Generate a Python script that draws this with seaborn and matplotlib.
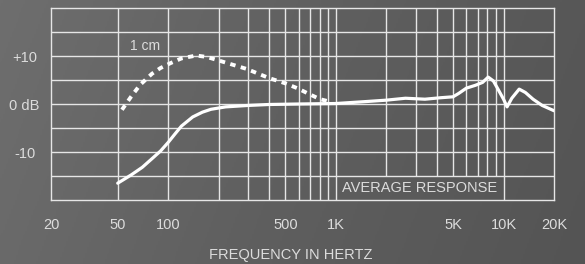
import numpy as np
import pandas as pd
import matplotlib.pyplot as plt
import seaborn as sns
from matplotlib.colors import LinearSegmentedColormap

# Response curves
avg_freq = [50, 60, 70, 80, 90, 100, 110, 120, 140, 160, 180, 220, 300, 400, 600,
            1000, 1500, 2000, 2600, 3400, 4200, 5000, 5400, 6000, 6800, 7500, 8100,
            8700, 9300, 10000, 10500, 11200, 12400, 13500, 15000, 17000, 20000]
avg_db = [-16.5, -14.8, -13.2, -11.4, -9.8, -8.0, -6.2, -4.6, -2.7, -1.7, -1.1, -0.6,
          -0.3, -0.1, 0.0, 0.1, 0.5, 0.8, 1.2, 1.0, 1.3, 1.5, 2.2, 3.3, 3.9, 4.5, 5.6,
          4.8, 3.0, 1.0, -0.6, 1.2, 3.1, 2.4, 1.0, -0.3, -1.4]

cm_freq = [53, 60, 68, 80, 90, 103, 120, 147, 170, 212, 294, 400, 500, 588, 700, 805, 920]
cm_db = [-1.2, 1.5, 4.0, 6.3, 7.5, 8.5, 9.5, 10.1, 9.8, 8.8, 7.3, 5.4, 4.3, 3.3, 2.0, 1.0, 0.5]

xtick_vals = [20, 50, 100, 500, 1000, 5000, 10000, 20000]
xtick_labels = ["20", "50", "100", "500", "1K", "5K", "10K", "20K"]
ytick_vals = [10, 0, -10]
ytick_labels = ["+10", "0 dB", "-10"]

grid_freqs = [50, 100, 200, 300, 400, 500, 600, 700, 800, 900, 1000,
              2000, 3000, 4000, 5000, 6000, 7000, 8000, 9000, 10000]
grid_db = [-15, -10, -5, 0, 5, 10, 15]

sns.set_style("white")
plt.rcParams["font.family"] = ["Liberation Sans", "DejaVu Sans"]

txt = "#dcdcdc"
line_c = "#e6e6e6"

fig = plt.figure(figsize=(5.85, 2.64), dpi=100)

# textured grey backdrop, lighter on the left
bg = fig.add_axes([0, 0, 1, 1], zorder=0)
cmap = LinearSegmentedColormap.from_list("bg", ["#6e6e6e", "#5f5f5f", "#545454"])
gx, gy = np.meshgrid(np.linspace(0, 1, 300), np.linspace(0, 1, 150))
bg.imshow(gx * 0.85 + gy * 0.15, cmap=cmap, aspect="auto", extent=[0, 1, 0, 1])
bg.axis("off")

ax = fig.add_axes([51 / 585, 1 - 200 / 264, 503 / 585, 192 / 264], zorder=1)
ax.patch.set_alpha(0)
ax.set_xscale("log")
ax.set_xlim(20, 20000)
ax.set_ylim(-20, 20)

# grid; vertical lines between 1K and 10K stop above the label box
for f in grid_freqs:
    low = -15 if 1000 < f < 10000 else -20
    ax.vlines(f, low, 20, color=line_c, lw=1.0, zorder=1)
for d in grid_db:
    ax.axhline(d, color=line_c, lw=1.0, zorder=1)
for s in ax.spines.values():
    s.set_color(line_c)
    s.set_linewidth(1.0)

df_avg = pd.DataFrame({"freq": avg_freq, "db": avg_db})
df_cm = pd.DataFrame({"freq": cm_freq, "db": cm_db})
sns.lineplot(data=df_avg, x="freq", y="db", ax=ax, color="white", lw=2.3, zorder=3)
sns.lineplot(data=df_cm, x="freq", y="db", ax=ax, color="white", lw=2.8,
             linestyle=(0, (1.4, 1.4)), zorder=3)

ax.text(59, 12, "1 cm", color=txt, fontsize=10, va="center", ha="left")
ax.text(np.sqrt(1000 * 10000), -17.5, "AVERAGE RESPONSE", color=txt, fontsize=10.5,
        va="center", ha="center")

ax.set_xticks(xtick_vals)
ax.set_xticklabels(xtick_labels)
ax.minorticks_off()
ax.set_yticks(ytick_vals)
ax.set_yticklabels(ytick_labels, ha="center")
ax.tick_params(axis="x", length=0, pad=13, labelsize=10.5, colors=txt)
ax.tick_params(axis="y", length=0, pad=19, labelsize=10.5, colors=txt)
ax.set_xlabel("")
ax.set_ylabel("")

fig.text(291 / 585, 1 - 255 / 264, "FREQUENCY IN HERTZ", color=txt, fontsize=10.5,
         ha="center", va="center")

fig.savefig("out.png", dpi=100)
